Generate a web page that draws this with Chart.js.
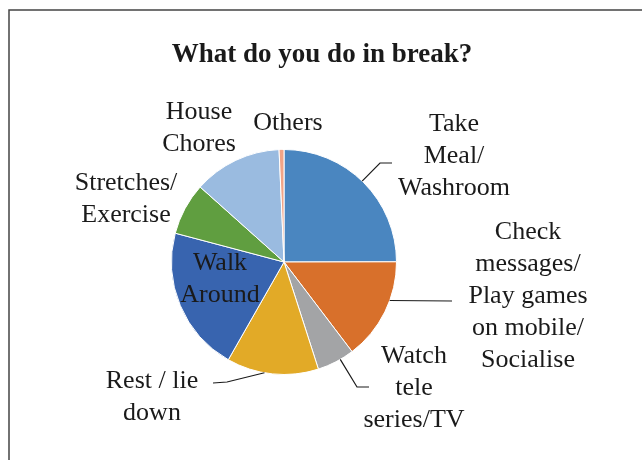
<!DOCTYPE html>
<html>
<head>
<meta charset="utf-8">
<script src="https://cdn.jsdelivr.net/npm/chart.js@4.4.1/dist/chart.umd.min.js"></script>
<style>
  html, body { margin: 0; padding: 0; background: #fff; }
  #wrap { width: 642px; height: 460px; position: relative; }
</style>
</head>
<body>
<div id="wrap"><canvas id="graficoPausa"></canvas></div>
<script>
// datos (porcentaje aprox.)
const categorias = ['Take Meal/ Washroom', 'Check messages/ Play games on mobile/ Socialise',
  'Watch tele series/TV', 'Rest / lie down', 'Walk Around', 'Stretches/ Exercise',
  'House Chores', 'Others'];
const valores = [25.0, 14.7, 5.4, 13.2, 20.9, 7.5, 12.7, 0.7];
const colores = ['#4A86C0', '#D8702B', '#A3A4A6', '#E2AA27', '#3864AF', '#609E40', '#9ABBE0', '#F1A487'];

// lineas de texto de cada etiqueta
const etiquetas = [
  ['Take', 'Meal/', 'Washroom'],
  ['Check', 'messages/', 'Play games', 'on mobile/', 'Socialise'],
  ['Watch', 'tele', 'series/TV'],
  ['Rest / lie', 'down'],
  ['Walk', 'Around'],
  ['Stretches/', 'Exercise'],
  ['House', 'Chores'],
  ['Others']
];

// posicion de etiquetas: centro x, baseline de la primera linea
const posEtiquetas = [
  { x: 454, y: 131 }, { x: 528, y: 239 }, { x: 414, y: 363 }, { x: 152, y: 388 },
  { x: 220, y: 270 }, { x: 126, y: 190 }, { x: 199, y: 119 }, { x: 288, y: 130 }
];
// lineas guia: angulo de anclaje (grados desde arriba) y puntos siguientes
const guias = [
  { idx: 0, ang: 44, pts: [[380, 163], [392, 163]] },
  { idx: 1, ang: 110, pts: [[452, 301]] },
  { idx: 2, ang: 150, pts: [[357, 387], [369, 387]] },
  { idx: 3, ang: 190, pts: [[227, 382], [213, 383]] }
];

const etiquetasPlugin = {
  id: 'etiquetasPlugin',
  afterDraw(chart) {
    const ctx = chart.ctx;
    const arc = chart.getDatasetMeta(0).data[0];
    const cx = arc.x, cy = arc.y, r = arc.outerRadius;

    ctx.save();
    // marco
    ctx.strokeStyle = '#444';
    ctx.lineWidth = 1.5;
    ctx.beginPath();
    ctx.moveTo(9, 470);
    ctx.lineTo(9, 10);
    ctx.lineTo(650, 10);
    ctx.stroke();

    // titulo
    ctx.fillStyle = '#1a1a1a';
    ctx.font = 'bold 27px "Liberation Serif", "Times New Roman", serif';
    ctx.textAlign = 'center';
    ctx.textBaseline = 'alphabetic';
    ctx.fillText('What do you do in break?', 322, 62);

    // lineas guia
    ctx.strokeStyle = '#1a1a1a';
    ctx.lineWidth = 1.2;
    guias.forEach(g => {
      const a = g.ang * Math.PI / 180;
      ctx.beginPath();
      ctx.moveTo(cx + r * Math.sin(a), cy - r * Math.cos(a));
      g.pts.forEach(p => ctx.lineTo(p[0], p[1]));
      ctx.stroke();
    });

    // etiquetas
    ctx.font = '26px "Liberation Serif", "Times New Roman", serif';
    etiquetas.forEach((lineas, i) => {
      const p = posEtiquetas[i];
      lineas.forEach((t, k) => ctx.fillText(t, p.x, p.y + k * 32));
    });
    ctx.restore();
  }
};

new Chart(document.getElementById('graficoPausa'), {
  type: 'pie',
  data: {
    labels: categorias,
    datasets: [{
      data: valores,
      backgroundColor: colores,
      borderColor: '#fff',
      borderWidth: 1
    }]
  },
  options: {
    responsive: true,
    maintainAspectRatio: false,
    animation: false,
    layout: { padding: { left: 171, right: 245, top: 149, bottom: 85 } },
    plugins: {
      legend: { display: false },
      tooltip: { enabled: false },
      title: { display: false }
    }
  },
  plugins: [etiquetasPlugin]
});
</script>
</body>
</html>
